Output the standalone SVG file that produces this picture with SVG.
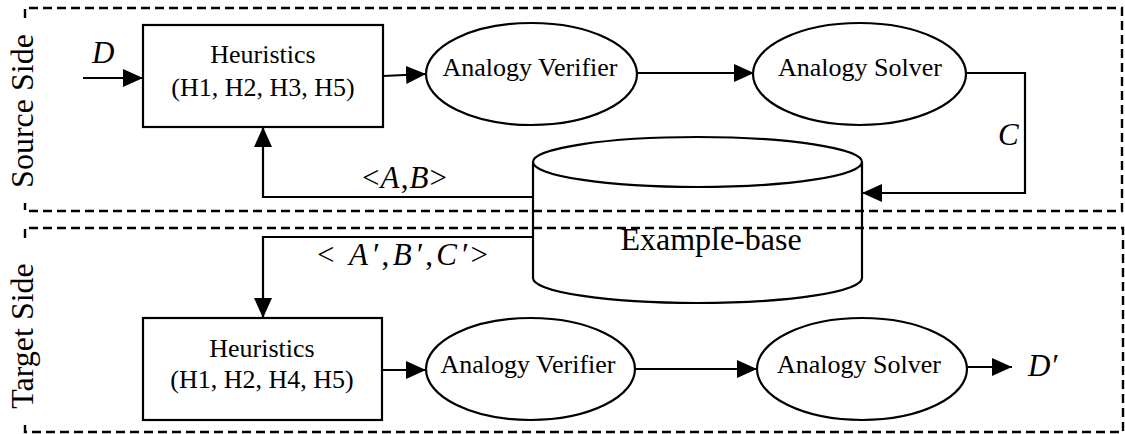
<svg xmlns="http://www.w3.org/2000/svg" width="1125" height="434" viewBox="0 0 1125 434">
<style>
  .frame{fill:none;stroke:#000;stroke-width:2.4;stroke-dasharray:9 5}
  .shape{fill:#fff;stroke:#000;stroke-width:2.2}
  .conn{fill:none;stroke:#000;stroke-width:2.2}
  text{font-family:"Liberation Serif","Times New Roman",serif;fill:#000}
  .node{font-size:26px;text-anchor:middle}
  .side{font-size:32px;text-anchor:middle}
  .lbl{font-size:31px}
  .it{font-style:italic}
</style>
<defs>
  <marker id="arr" markerUnits="userSpaceOnUse" markerWidth="20" markerHeight="18" refX="20" refY="9" orient="auto">
    <path d="M0,0 L20,9 L0,18 z" fill="#000"/>
  </marker>
</defs>
<rect width="1125" height="434" fill="#fff"/>

<g id="source-frame">
  <path class="frame" d="M25,18 V8 H1122 V211 H25 V203"/>
  <text class="side" transform="translate(33,111) rotate(-90)">Source Side</text>
</g>
<g id="target-frame">
  <path class="frame" d="M25,238 V228 H1123 V432 H25 V423"/>
  <text class="side" transform="translate(33,336) rotate(-90)">Target Side</text>
</g>

<g id="example-base">
  <path class="conn" d="M533,162 V278 A164.5,25 0 0 0 862,278 V162"/>
  <ellipse class="conn" cx="697.5" cy="162" rx="164.5" ry="25"/>
  <text x="711" y="250" style="font-size:32px;text-anchor:middle">Example-base</text>
</g>

<g id="src-heuristics">
  <rect class="shape" x="143" y="25" width="240" height="102"/>
  <text class="node" x="263" y="63">Heuristics</text>
  <text class="node" x="263" y="96">(H1, H2, H3, H5)</text>
</g>
<g id="src-verifier">
  <ellipse class="shape" cx="531.5" cy="74" rx="105.5" ry="51"/>
  <text class="node" x="530" y="76">Analogy Verifier</text>
</g>
<g id="src-solver">
  <ellipse class="shape" cx="859.5" cy="74" rx="106.5" ry="51"/>
  <text class="node" x="860" y="76">Analogy Solver</text>
</g>

<g id="tgt-heuristics">
  <rect class="shape" x="143" y="318" width="239" height="102"/>
  <text class="node" x="262" y="357">Heuristics</text>
  <text class="node" x="262" y="388">(H1, H2, H4, H5)</text>
</g>
<g id="tgt-verifier">
  <ellipse class="shape" cx="530.5" cy="369" rx="104.5" ry="51"/>
  <text class="node" x="528" y="373">Analogy Verifier</text>
</g>
<g id="tgt-solver">
  <ellipse class="shape" cx="862" cy="369" rx="105" ry="51"/>
  <text class="node" x="859" y="373">Analogy Solver</text>
</g>

<g id="connectors">
  <path class="conn" d="M83,78 H143" marker-end="url(#arr)"/>
  <path class="conn" d="M383,76 L426,74" marker-end="url(#arr)"/>
  <path class="conn" d="M637,73 H754" marker-end="url(#arr)"/>
  <path class="conn" d="M966,73 H1025 V193 H862" marker-end="url(#arr)"/>
  <path class="conn" d="M533,197 H263 V127" marker-end="url(#arr)"/>
  <path class="conn" d="M533,237 H263 V318" marker-end="url(#arr)"/>
  <path class="conn" d="M382,370 H426" marker-end="url(#arr)"/>
  <path class="conn" d="M635,369 H757" marker-end="url(#arr)"/>
  <path class="conn" d="M967,367 H1012" marker-end="url(#arr)"/>
  <text class="lbl it" x="92" y="63">D</text>
  <text class="lbl it" x="998" y="145">C</text>
  <text class="lbl" x="362" y="188" textLength="85">&lt;<tspan class="it">A</tspan>,<tspan class="it">B</tspan>&gt;</text>
  <text class="lbl" x="317" y="265" textLength="171">&lt; <tspan class="it">A′</tspan>,<tspan class="it">B′</tspan>,<tspan class="it">C′</tspan>&gt;</text>
  <text class="lbl it" x="1028" y="376">D′</text>
</g>
</svg>
